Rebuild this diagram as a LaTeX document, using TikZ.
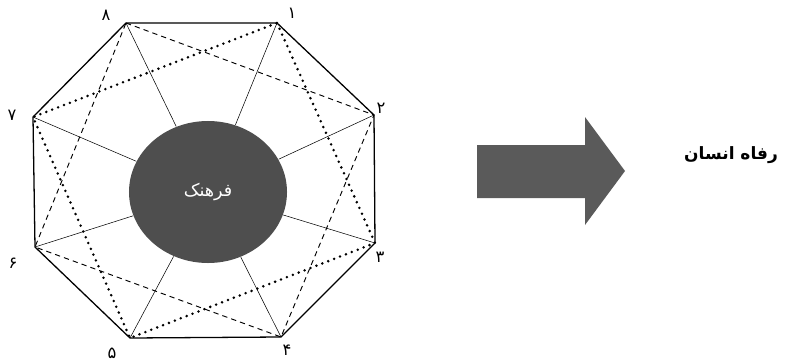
\documentclass[tikz,border=0pt]{standalone}
\usepackage{fontspec}
\setmainfont{Liberation Serif}
\newfontfamily\farsifont[Script=Arabic]{DejaVu Sans}
\TeXXeTstate=1
\usetikzlibrary{shapes.geometric}
\definecolor{farhanggray}{RGB}{78,78,78}
\definecolor{arrowgray}{RGB}{90,90,90}

\begin{document}
\begin{tikzpicture}[x=0.03cm, y=-0.03cm, line width=0.8pt,
    rim/.style={line width=1.1pt, line join=round},
    spoke/.style={line width=0.45pt},
    dashline/.style={line width=0.8pt, dash pattern=on 4.5pt off 3.5pt},
    dotline/.style={line width=2.4pt, line cap=round, dash pattern=on 0pt off 5.4pt},
    numlabel/.style={font=\farsifont\fontsize{14}{16}\selectfont}]
    \useasboundingbox (0,0) rectangle (785,361);
    % vertices of the octagon
    \coordinate (v1) at (277,23);
    \coordinate (v2) at (374,115);
    \coordinate (v3) at (375,243);
    \coordinate (v4) at (281,337);
    \coordinate (v5) at (130,338);
    \coordinate (v6) at (35,247);
    \coordinate (v7) at (33,117);
    \coordinate (v8) at (126,23);
    % centre
    \node[ellipse, fill=farhanggray, inner sep=0pt,
          minimum width=4.74cm, minimum height=4.26cm,
          font=\farsifont\fontsize{15}{17}\selectfont, text=white]
          (culture) at (208,192) {\beginR فرهنک\endR};
    % spokes
    \foreach \v in {v1,v2,v3,v4,v5,v6,v7,v8}
      \draw[spoke] (\v) -- (culture);
    % dashed square 8-2-4-6
    \draw[dashline] (v8) -- (v2) -- (v4) -- (v6) -- cycle;
    % dotted square 1-3-5-7
    \draw[dotline] (v1) -- (v3) -- (v5) -- (v7) -- cycle;
    % rim
    \draw[rim] (v1) -- (v2) -- (v3) -- (v4) -- (v5) -- (v6) -- (v7) -- (v8) -- cycle;
    % numbers
    \node[numlabel] (n1) at (292,13) {۱};
    \node[numlabel] (n2) at (381,108) {۲};
    \node[numlabel] (n3) at (380,257) {۳};
    \node[numlabel] (n4) at (287,350) {۴};
    \node[numlabel] (n5) at (112,353) {۵};
    \node[numlabel] (n6) at (13,263) {۶};
    \node[numlabel] (n7) at (12,115) {۷};
    \node[numlabel] (n8) at (106,15) {۸};
    % arrow
    \fill[arrowgray] (477,145) -- (585,145) -- (585,117) -- (625,171)
          -- (585,225) -- (585,198) -- (477,198) -- cycle;
    \node[font=\farsifont\bfseries\fontsize{14.5}{16}\selectfont]
          (welfare) at (731,155) {\beginR رفاه انسان\endR};
\end{tikzpicture}
\end{document}
